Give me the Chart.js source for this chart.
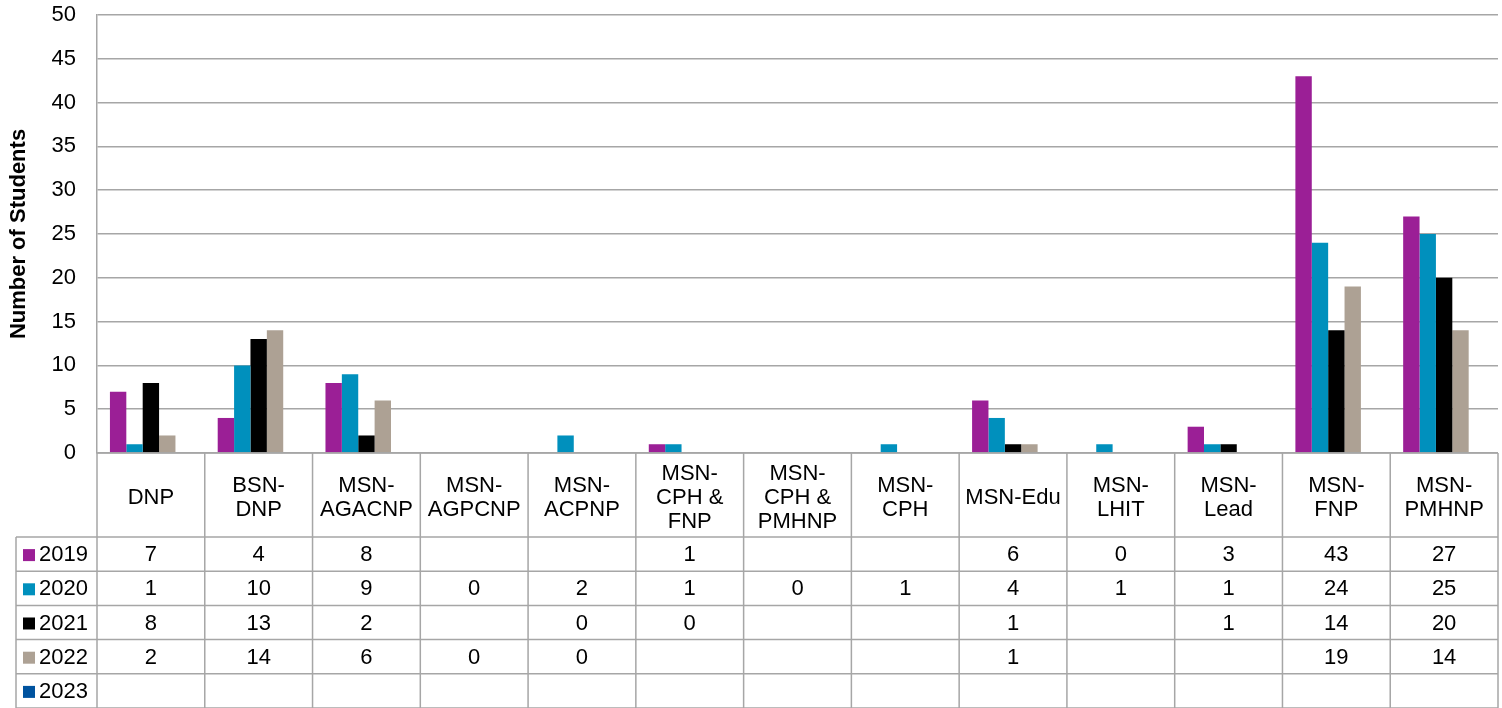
<!DOCTYPE html>
<html>
<head>
<meta charset="utf-8">
<script src="https://cdn.jsdelivr.net/npm/chart.js@4/dist/chart.umd.min.js"></script>
<style>
  html, body { margin: 0; padding: 0; background: #fff; }
  #wrap { width: 1502px; height: 708px; position: relative; }
</style>
</head>
<body>
<div id="wrap"><canvas id="myChart"></canvas></div>
<script>
const programs = [
    ['DNP'],
    ['BSN-', 'DNP'],
    ['MSN-', 'AGACNP'],
    ['MSN-', 'AGPCNP'],
    ['MSN-', 'ACPNP'],
    ['MSN-', 'CPH &', 'FNP'],
    ['MSN-', 'CPH &', 'PMHNP'],
    ['MSN-', 'CPH'],
    ['MSN-Edu'],
    ['MSN-', 'LHIT'],
    ['MSN-', 'Lead'],
    ['MSN-', 'FNP'],
    ['MSN-', 'PMHNP']
];

const years = ['2019', '2020', '2021', '2022', '2023'];

const y2019 = [7, 4, 8, null, null, 1, null, null, 6, 0, 3, 43, 27];
const y2020 = [1, 10, 9, 0, 2, 1, 0, 1, 4, 1, 1, 24, 25];
const y2021 = [8, 13, 2, null, 0, 0, null, null, 1, null, 1, 14, 20];
const y2022 = [2, 14, 6, 0, 0, null, null, null, 1, null, null, 19, 14];
const y2023 = [null, null, null, null, null, null, null, null, null, null, null, null, null];

const yTicks = [0, 5, 10, 15, 20, 25, 30, 35, 40, 45, 50];

const colors = ['#9b1f96', '#0090bd', '#000000', '#ada194', '#00539f'];
const series = [y2019, y2020, y2021, y2022, y2023];

const FONT = '"Liberation Sans", Arial, sans-serif';
const LINE = '#a6a6a6';

// draws the data table under the plot, lined up with the x scale
const tablePlugin = {
    id: 'dataTable',
    afterDraw(chart) {
        const ctx = chart.ctx;
        const area = chart.chartArea;
        const xs = chart.scales.x;
        const n = programs.length;
        const step = (area.right - area.left) / n;
        const headTop = area.bottom;
        const headBottom = 537;
        const rowH = (708 - headBottom) / years.length;
        const legLeft = 16;

        ctx.save();
        ctx.strokeStyle = LINE;
        ctx.lineWidth = 1.5;

        // horizontal lines
        ctx.beginPath();
        ctx.moveTo(area.left, headTop);
        ctx.lineTo(area.right, headTop);
        for (let r = 0; r <= years.length; r++) {
            const y = headBottom + r * rowH;
            ctx.moveTo(legLeft, y);
            ctx.lineTo(area.right, y);
        }
        // vertical lines
        for (let i = 0; i <= n; i++) {
            const x = area.left + i * step;
            ctx.moveTo(x, headTop);
            ctx.lineTo(x, 708);
        }
        ctx.moveTo(legLeft, headBottom);
        ctx.lineTo(legLeft, 708);
        ctx.stroke();

        ctx.fillStyle = '#000';
        ctx.textAlign = 'center';
        ctx.textBaseline = 'middle';
        ctx.font = '22px ' + FONT;

        // header labels
        const lh = 24;
        programs.forEach((lines, i) => {
            const cx = xs.getPixelForValue(i);
            const cy = (headTop + headBottom) / 2 + 3;
            const start = cy - (lines.length - 1) * lh / 2;
            lines.forEach((t, k) => ctx.fillText(t, cx, start + k * lh));
        });

        // rows
        years.forEach((yr, r) => {
            const cy = headBottom + r * rowH + rowH / 2 + 1;
            ctx.fillStyle = colors[r];
            ctx.fillRect(23, cy - 6, 12, 12);
            ctx.fillStyle = '#000';
            ctx.textAlign = 'left';
            ctx.fillText(yr, 39, cy);
            ctx.textAlign = 'center';
            series[r].forEach((v, i) => {
                if (v !== null) ctx.fillText(String(v), xs.getPixelForValue(i), cy);
            });
        });
        ctx.restore();
    }
};

const data = {
    labels: programs.map(p => p.join(' ')),
    datasets: years.map((yr, r) => ({
        label: yr,
        data: series[r],
        backgroundColor: colors[r],
        borderWidth: 0,
        categoryPercentage: 0.76,
        barPercentage: 1.0
    }))
};

const config = {
    type: 'bar',
    data: data,
    options: {
        responsive: true,
        maintainAspectRatio: false,
        animation: false,
        layout: { padding: { top: 15, right: 4, bottom: 255, left: 6 } },
        plugins: {
            legend: { display: false },
            tooltip: { enabled: false }
        },
        scales: {
            x: {
                display: false
            },
            y: {
                min: 0,
                max: 50,
                afterFit(scale) {
                    scale.width = 91;
                    scale.paddingTop = 0;
                    scale.paddingBottom = 0;
                },
                afterBuildTicks(scale) { scale.ticks = yTicks.map(v => ({ value: v })); },
                border: { display: true, color: LINE, width: 1.5 },
                grid: { color: LINE, lineWidth: 1.5, drawTicks: false },
                ticks: {
                    color: '#000',
                    padding: 21,
                    font: { size: 22, family: FONT }
                },
                title: {
                    display: true,
                    text: 'Number of Students',
                    color: '#000',
                    padding: { top: 0, bottom: 0 },
                    font: { size: 22, weight: 'bold', family: FONT }
                }
            }
        }
    },
    plugins: [tablePlugin]
};

const myChart = new Chart(document.getElementById('myChart'), config);
</script>
</body>
</html>
